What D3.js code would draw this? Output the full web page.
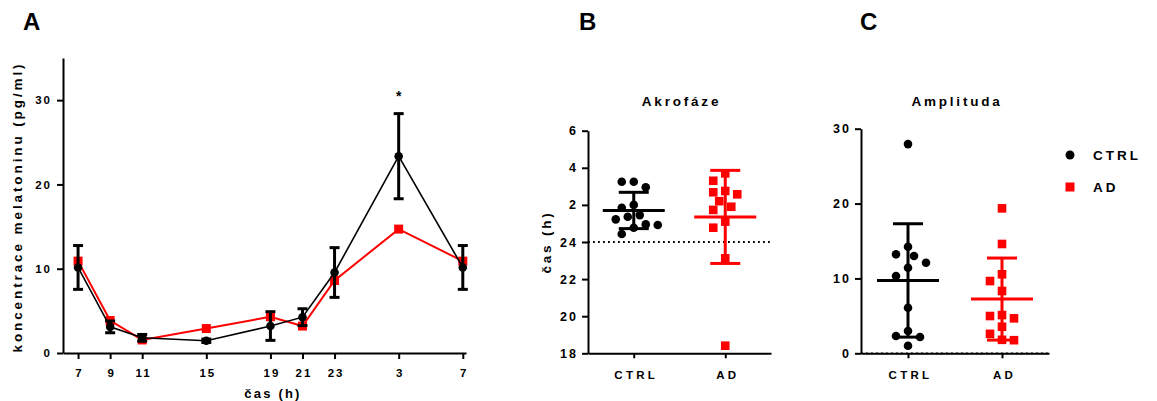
<!DOCTYPE html>
<html>
<head>
<meta charset="utf-8">
<script src="https://cdn.jsdelivr.net/npm/d3@7"></script>
<style>
  body { margin: 0; background: #fff; }
  svg text { font-family: "Liberation Sans", Arial, sans-serif; font-weight: bold; fill: #000; }
</style>
</head>
<body>
<script>
// --- data ---
// panel A: melatonin concentration over time
const timeLabels = ["7", "9", "11", "15", "19", "21", "23", "3", "7"];
const timeOffsets = [0, 2, 4, 8, 12, 14, 16, 20, 24]; // hours after 7:00
const ctrlMean = [10.15, 3.1, 1.8, 1.45, 3.2, 4.25, 9.55, 23.35, 10.15];
const ctrlSem = [2.6, 0.7, 0.4, 0.2, 1.7, 1.0, 2.95, 5.05, 2.6];
const adMean = [10.9, 3.85, 1.55, 2.9, 4.3, 3.2, 8.6, 14.7, 10.9];

// panel B: acrophase (hours, 24 = midnight, 26 = 2:00 ...)
const groups = ["CTRL", "AD"];
const acroCtrl = [27.25, 27.25, 26.95, 25.85, 26.0, 25.36, 25.22, 25.45, 24.92, 24.95, 24.77, 24.43];
const acroAd = [27.7, 27.3, 26.75, 26.68, 26.57, 26.2, 25.9, 25.73, 25.1, 24.77, 23.12, 18.41];
const acroTicks = [18, 20, 22, 24, 26, 28, 30];

// panel C: amplitude
const ampCtrl = [27.94, 14.23, 13.22, 12.99, 12.1, 11.43, 10.32, 6.09, 2.98, 2.31, 2.18, 1.01];
const ampAd = [19.36, 14.6, 10.55, 9.65, 8.32, 5.11, 4.67, 4.98, 3.55, 2.6, 1.8, 1.75];
const ampTicks = [0, 10, 20, 30];

const RED = "#ff0000";

const svg = d3.select("body").append("svg")
  .attr("width", 1157)
  .attr("height", 401);

function styleAxis(g) {
  g.select(".domain").attr("stroke", "#000").attr("stroke-width", 2);
  g.selectAll(".tick line").attr("stroke", "#000").attr("stroke-width", 2);
  g.selectAll(".tick text")
    .style("font-size", "11.5px")
    .style("letter-spacing", "2px")
    .style("font-family", "'Liberation Sans', Arial, sans-serif")
    .style("font-weight", "bold");
}

function panelLetter(txt, x) {
  svg.append("text").attr("x", x).attr("y", 30)
    .style("font-size", "24px").text(txt);
}

// ---------------- panel A ----------------
panelLetter("A", 23);

const xA = d3.scaleLinear().domain([-0.94, 24.2]).range([63, 466]);
const yA = d3.scaleLinear().domain([0, 35]).range([353, 58]);

svg.append("g")
  .attr("transform", "translate(0,353)")
  .call(d3.axisBottom(xA).tickValues(timeOffsets)
    .tickFormat((d, i) => timeLabels[i]).tickSize(6).tickSizeOuter(0))
  .call(styleAxis)
  .call(g => g.selectAll(".tick text").attr("dy", "1.3em").attr("dx", "1px"));

svg.append("g")
  .attr("transform", "translate(63,0)")
  .call(d3.axisLeft(yA).tickValues([0, 10, 20, 30]).tickSize(6).tickSizeOuter(0))
  .call(styleAxis)
  .call(g => g.selectAll(".tick text").attr("dx", "-2px"));

svg.append("text")
  .attr("transform", "translate(22,207) rotate(-90)")
  .attr("text-anchor", "middle")
  .style("font-size", "13.5px")
  .style("letter-spacing", "2.9px")
  .text("koncentrace melatoninu (pg/ml)");

svg.append("text")
  .attr("x", 273).attr("y", 398)
  .attr("text-anchor", "middle")
  .style("font-size", "13px")
  .style("letter-spacing", "2.2px")
  .text("čas (h)");

const lineA = d3.line().x((d, i) => xA(timeOffsets[i])).y(d => yA(d));

// AD (red) first, then CTRL on top
svg.append("path").datum(adMean)
  .attr("d", lineA).attr("fill", "none")
  .attr("stroke", RED).attr("stroke-width", 2);
svg.selectAll(".sqA").data(adMean).join("rect")
  .attr("class", "sqA")
  .attr("x", (d, i) => xA(timeOffsets[i]) - 4.5)
  .attr("y", d => yA(d) - 4.5)
  .attr("width", 9).attr("height", 9)
  .attr("fill", RED);

svg.append("path").datum(ctrlMean)
  .attr("d", lineA).attr("fill", "none")
  .attr("stroke", "#000").attr("stroke-width", 1.6);

const errA = svg.append("g");
ctrlMean.forEach((m, i) => {
  const x = xA(timeOffsets[i]);
  const y1 = yA(m + ctrlSem[i]), y2 = yA(m - ctrlSem[i]);
  errA.append("line").attr("x1", x).attr("x2", x).attr("y1", y1).attr("y2", y2)
    .attr("stroke", "#000").attr("stroke-width", 3);
  [y1, y2].forEach(y => errA.append("line")
    .attr("x1", x - 5).attr("x2", x + 5).attr("y1", y).attr("y2", y)
    .attr("stroke", "#000").attr("stroke-width", 3));
});

svg.selectAll(".dotA").data(ctrlMean).join("circle")
  .attr("class", "dotA")
  .attr("cx", (d, i) => xA(timeOffsets[i]))
  .attr("cy", d => yA(d))
  .attr("r", 4.3)
  .attr("fill", "#000");

svg.append("text")
  .attr("x", xA(20)).attr("y", 101)
  .attr("text-anchor", "middle")
  .style("font-size", "14px")
  .text("*");

// ---------------- scatter panels ----------------
// simple swarm: points placed top-down, shifted sideways in steps until free
function swarm(values, y, cx, minDist, step) {
  const placed = [];
  const order = values.map((v, i) => i).sort((a, b) => values[b] - values[a]);
  const out = new Array(values.length);
  order.forEach(i => {
    const py = y(values[i]);
    let off = 0;
    for (let k = 0; k < 30; k++) {
      const cand = k === 0 ? 0 : (k % 2 ? -1 : 1) * Math.ceil(k / 2) * step;
      const ok = placed.every(p => Math.hypot(p.x - (cx + cand), p.y - py) >= minDist);
      if (ok) { off = cand; break; }
    }
    const pt = { x: cx + off, y: py, v: values[i] };
    placed.push(pt);
    out[i] = pt;
  });
  return out;
}

function scatterPanel(opts) {
  const { letter, letterX, title, x0, x1, y, ticks, tickFmt, data, refLine, ylabel } = opts;
  panelLetter(letter, letterX);

  const x = d3.scalePoint().domain(groups).range([x0, x1]).padding(0.5);

  svg.append("text")
    .attr("x", (x0 + x1) / 2 + 2).attr("y", 106)
    .attr("text-anchor", "middle")
    .style("font-size", "13.5px")
    .style("letter-spacing", "2.8px")
    .text(title);

  svg.append("line")
    .attr("x1", x0).attr("x2", x1)
    .attr("y1", y(refLine)).attr("y2", y(refLine))
    .attr("stroke", "#000").attr("stroke-width", 1.8)
    .attr("stroke-dasharray", "1.8,3.2");

  svg.append("g")
    .attr("transform", `translate(0,${y.range()[0]})`)
    .call(d3.axisBottom(x).tickSize(5).tickSizeOuter(0))
    .call(styleAxis)
    .call(g => g.selectAll(".tick text").attr("dy", "1.5em")
      .style("letter-spacing", "3.3px").attr("dx", "2px"));

  svg.append("g")
    .attr("transform", `translate(${x0},0)`)
    .call(d3.axisLeft(y).tickValues(ticks).tickFormat(tickFmt).tickSize(6).tickSizeOuter(0))
    .call(styleAxis)
    .call(g => g.selectAll(".tick text").style("font-size", "12.5px").attr("dx", "-1px"));

  if (ylabel) {
    svg.append("text")
      .attr("transform", `translate(${x0 - 37},242) rotate(-90)`)
      .attr("text-anchor", "middle")
      .style("font-size", "13.5px")
      .style("letter-spacing", "2.8px")
      .text(ylabel);
  }

  data.forEach((vals, gi) => {
    const g = groups[gi];
    const cx = x(g);
    const col = gi === 0 ? "#000" : RED;
    const pts = swarm(vals, y, cx, 10.5, 6);
    if (gi === 0) {
      svg.append("g").selectAll("circle").data(pts).join("circle")
        .attr("cx", d => d.x).attr("cy", d => d.y).attr("r", 4.3).attr("fill", col);
    } else {
      svg.append("g").selectAll("rect").data(pts).join("rect")
        .attr("x", d => d.x - 4.3).attr("y", d => d.y - 4.3)
        .attr("width", 8.6).attr("height", 8.6).attr("fill", col);
    }
    const m = d3.mean(vals), sd = d3.deviation(vals);
    const eg = svg.append("g").attr("stroke", col).attr("stroke-width", 3);
    eg.append("line").attr("x1", cx).attr("x2", cx).attr("y1", y(m + sd)).attr("y2", y(m - sd));
    eg.append("line").attr("x1", cx - 15).attr("x2", cx + 15).attr("y1", y(m + sd)).attr("y2", y(m + sd));
    eg.append("line").attr("x1", cx - 15).attr("x2", cx + 15).attr("y1", y(m - sd)).attr("y2", y(m - sd));
    eg.append("line").attr("x1", cx - 31).attr("x2", cx + 31).attr("y1", y(m)).attr("y2", y(m));
  });
}

scatterPanel({
  letter: "B", letterX: 579, title: "Akrofáze",
  x0: 588, x1: 771,
  y: d3.scaleLinear().domain([18, 30]).range([353.3, 130.7]),
  ticks: acroTicks, tickFmt: d => d > 24 ? d - 24 : d,
  data: [acroCtrl, acroAd], refLine: 24, ylabel: "čas (h)"
});

scatterPanel({
  letter: "C", letterX: 860, title: "Amplituda",
  x0: 861, x1: 1049,
  y: d3.scaleLinear().domain([0, 30]).range([353.3, 128.7]),
  ticks: ampTicks, tickFmt: d => d,
  data: [ampCtrl, ampAd], refLine: 0, ylabel: null
});

// ---------------- legend ----------------
const legend = svg.append("g").attr("transform", "translate(1070,0)");
legend.append("circle").attr("cx", 0).attr("cy", 155).attr("r", 4.5).attr("fill", "#000");
legend.append("rect").attr("x", -4.5).attr("y", 182.5).attr("width", 9).attr("height", 9).attr("fill", RED);
legend.append("text").attr("x", 23).attr("y", 160).style("font-size", "13.5px")
  .style("letter-spacing", "3px").text("CTRL");
legend.append("text").attr("x", 23).attr("y", 192).style("font-size", "13.5px")
  .style("letter-spacing", "3px").text("AD");
</script>
</body>
</html>
